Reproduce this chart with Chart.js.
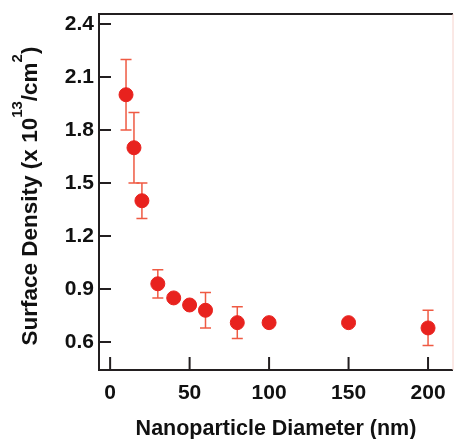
<!DOCTYPE html>
<html lang="en">
<head>
    <meta charset="UTF-8">
    <title>Surface Density vs Nanoparticle Diameter</title>
    <script src="https://cdn.jsdelivr.net/npm/chart.js"></script>
    <style>
        html, body { margin: 0; padding: 0; background: #fff; overflow: hidden; }
        #wrap { width: 454px; height: 439px; }
    </style>
</head>
<body>
    <div id="wrap"><canvas id="chart"></canvas></div>

    <script>
        // data
        const diameters = [10, 15, 20, 30, 40, 50, 60, 80, 100, 150, 200];
        const density   = [2.00, 1.70, 1.40, 0.93, 0.85, 0.81, 0.78, 0.71, 0.71, 0.71, 0.68];
        const errHigh   = [2.20, 1.90, 1.50, 1.01, null, null, 0.88, 0.80, 0.72, null, 0.78];
        const errLow    = [1.80, 1.50, 1.30, 0.85, null, null, 0.68, 0.62, 0.70, null, 0.58];
        const xTicks = [0, 50, 100, 150, 200];
        const yTicks = [0.6, 0.9, 1.2, 1.5, 1.8, 2.1, 2.4];

        const axisColor = '#231f20';
        const markColor = '#e8221e';
        const barColor = '#ef5a43';
        const family = 'Liberation Sans, Arial, sans-serif';
        const tickFont = { family, size: 21, weight: 'bold' };
        const titleFont = { family, size: 21.5, weight: 'bold' };

        // y title with real superscripts, drawn rotated
        function drawYTitle(ctx, cx, cy) {
            const parts = [
                ['Surface Density (x 10', false],
                ['13', true],
                ['/cm', false],
                ['2', true],
                [')', false]
            ];
            const big = 'bold 22.5px ' + family;
            const small = 'bold 15px ' + family;
            let total = 0;
            parts.forEach(([t, sup]) => { ctx.font = sup ? small : big; total += ctx.measureText(t).width; });
            ctx.save();
            ctx.translate(cx, cy);
            ctx.rotate(-Math.PI / 2);
            ctx.fillStyle = '#111';
            ctx.textBaseline = 'middle';
            ctx.textAlign = 'left';
            let pos = -total / 2;
            parts.forEach(([t, sup]) => {
                ctx.font = sup ? small : big;
                ctx.fillText(t, pos, sup ? -13 : 0);
                pos += ctx.measureText(t).width;
            });
            ctx.restore();
        }

        // frame, inward tick marks and error bars
        const decorations = {
            id: 'decorations',
            beforeDatasetsDraw(chart) {
                const { ctx, chartArea: a, scales: { x, y } } = chart;
                ctx.save();
                // error bars
                ctx.strokeStyle = barColor;
                ctx.lineWidth = 1.5;
                diameters.forEach((d, i) => {
                    if (errHigh[i] == null) return;
                    const px = x.getPixelForValue(d);
                    const top = y.getPixelForValue(errHigh[i]);
                    const bot = y.getPixelForValue(errLow[i]);
                    ctx.beginPath();
                    ctx.moveTo(px, top); ctx.lineTo(px, bot);
                    ctx.moveTo(px - 5.5, top); ctx.lineTo(px + 5.5, top);
                    ctx.moveTo(px - 5.5, bot); ctx.lineTo(px + 5.5, bot);
                    ctx.stroke();
                });
                // frame
                ctx.strokeStyle = axisColor;
                ctx.lineWidth = 2;
                ctx.beginPath();
                ctx.moveTo(a.right, a.top);
                ctx.lineTo(a.left, a.top);
                ctx.lineTo(a.left, a.bottom);
                ctx.lineTo(a.right, a.bottom);
                ctx.stroke();
                ctx.strokeStyle = '#f6d2cc';
                ctx.lineWidth = 1;
                ctx.beginPath();
                ctx.moveTo(a.right, a.top);
                ctx.lineTo(a.right, a.bottom);
                ctx.stroke();
                // ticks pointing into the plot
                ctx.strokeStyle = axisColor;
                ctx.lineWidth = 2;
                ctx.beginPath();
                yTicks.forEach(v => {
                    const py = y.getPixelForValue(v);
                    ctx.moveTo(a.left, py); ctx.lineTo(a.left + 12, py);
                });
                xTicks.forEach(v => {
                    const px = x.getPixelForValue(v);
                    ctx.moveTo(px, a.bottom); ctx.lineTo(px, a.bottom - 13);
                });
                ctx.stroke();
                drawYTitle(ctx, 31, 196);
                ctx.restore();
            }
        };

        new Chart(document.getElementById('chart'), {
            type: 'scatter',
            data: {
                datasets: [{
                    data: diameters.map((d, i) => ({ x: d, y: density[i] })),
                    backgroundColor: markColor,
                    borderColor: markColor,
                    pointRadius: 7,
                    pointHoverRadius: 7
                }]
            },
            options: {
                responsive: true,
                maintainAspectRatio: false,
                animation: false,
                layout: { autoPadding: false, padding: { top: 14, right: 1, left: 0, bottom: 0 } },
                plugins: { legend: { display: false }, tooltip: { enabled: false } },
                scales: {
                    x: {
                        type: 'linear',
                        min: -7,
                        max: 215.7,
                        afterBuildTicks(s) { s.ticks = xTicks.map(v => ({ value: v })); },
                        afterFit(s) { s.height = 69; s.paddingLeft = 0; s.paddingRight = 0; },
                        grid: { display: false, drawTicks: false },
                        border: { display: false },
                        ticks: { color: '#111', font: tickFont, padding: 11, maxRotation: 0 },
                        title: { display: true, text: 'Nanoparticle Diameter (nm)', color: '#111', font: titleFont, padding: { top: 0, bottom: -3 } }
                    },
                    y: {
                        type: 'linear',
                        min: 0.442,
                        max: 2.457,
                        afterBuildTicks(s) { s.ticks = yTicks.map(v => ({ value: v })); },
                        afterFit(s) { s.width = 99; s.paddingTop = 0; s.paddingBottom = 0; },
                        grid: { display: false, drawTicks: false },
                        border: { display: false },
                        ticks: { color: '#111', font: tickFont, padding: 5, callback: v => v.toFixed(1) },
                        title: { display: false }
                    }
                }
            },
            plugins: [decorations]
        });
    </script>
</body>
</html>
